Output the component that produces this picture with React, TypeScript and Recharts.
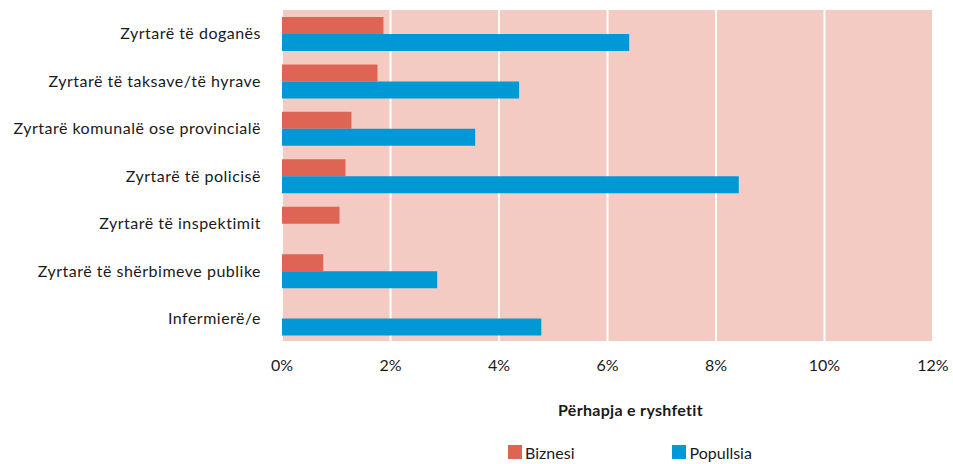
import {
  BarChart,
  Bar,
  XAxis,
  YAxis,
  CartesianGrid,
  Legend,
} from "recharts";

const categories = [
  "Zyrtarë të doganës",
  "Zyrtarë të taksave/të hyrave",
  "Zyrtarë komunalë ose provincialë",
  "Zyrtarë të policisë",
  "Zyrtarë të inspektimit",
  "Zyrtarë të shërbimeve publike",
  "Infermierë/e",
];

// prevalence of bribery, in %
const biznesi = [1.87, 1.76, 1.28, 1.17, 1.06, 0.76, null];
const popullsia = [6.4, 4.37, 3.56, 8.42, null, 2.86, 4.78];

const xTicks = [0, 2, 4, 6, 8, 10, 12];

const RED = "#DE6553";
const BLUE = "#0099D5";
const FONT = "Lato, 'Open Sans', sans-serif";

const chartData = categories.map((name, i) => ({
  name,
  biznesi: biznesi[i],
  popullsia: popullsia[i],
}));

function renderLegend(props: any) {
  const items = props.payload || [];
  return (
    <div
      style={{
        display: "flex",
        justifyContent: "center",
        gap: 98,
        paddingLeft: 307,
        height: 24,
        alignItems: "center",
        fontFamily: FONT,
        fontSize: 16,
        color: "#1a1a1a",
      }}
    >
      {items.map((it: any) => (
        <div key={it.value} style={{ display: "flex", alignItems: "center" }}>
          <span
            style={{
              display: "inline-block",
              width: 14,
              height: 14,
              background: it.color,
              marginRight: 3,
            }}
          />
          {it.value}
        </div>
      ))}
    </div>
  );
}

export default function App() {
  return (
    <div style={{ position: "absolute", left: 0, top: 0, background: "#fff" }}>
      <BarChart
        width={953}
        height={464}
        data={chartData}
        layout="vertical"
        margin={{ top: 10, right: 20, bottom: 0, left: 0 }}
        barGap={0}
        barSize={17}
      >
        <CartesianGrid
          horizontal={false}
          stroke="#ffffff"
          strokeWidth={2}
          fill="#F3CBC2"
          fillOpacity={1}
        />
        <XAxis
          type="number"
          domain={[0, 12]}
          ticks={xTicks}
          tickFormatter={(v) => `${v}%`}
          axisLine={{ stroke: "#ffffff", strokeWidth: 2 }}
          tickLine={false}
          tickSize={0}
          tickMargin={18}
          height={98}
          tick={{ fontSize: 16, fill: "#1a1a1a", fontFamily: FONT }}
          label={{
            value: "Përhapja e ryshfetit",
            position: "insideBottom",
            offset: 24,
            dx: 23,
            style: {
              fontSize: 16,
              fontWeight: 700,
              letterSpacing: 0.3,
              fill: "#1a1a1a",
              fontFamily: FONT,
            },
          }}
        />
        <YAxis
          type="category"
          dataKey="name"
          width={282}
          axisLine={false}
          tickLine={false}
          tickSize={0}
          tickMargin={21}
          interval={0}
          tick={{
            fontSize: 16,
            fill: "#1a1a1a",
            fontFamily: FONT,
            letterSpacing: 0.5,
          }}
        />
        <Legend verticalAlign="bottom" content={renderLegend} wrapperStyle={{ left: 0, width: 953 }} />
        <Bar dataKey="biznesi" name="Biznesi" fill={RED} isAnimationActive={false} />
        <Bar dataKey="popullsia" name="Popullsia" fill={BLUE} isAnimationActive={false} />
      </BarChart>
    </div>
  );
}
